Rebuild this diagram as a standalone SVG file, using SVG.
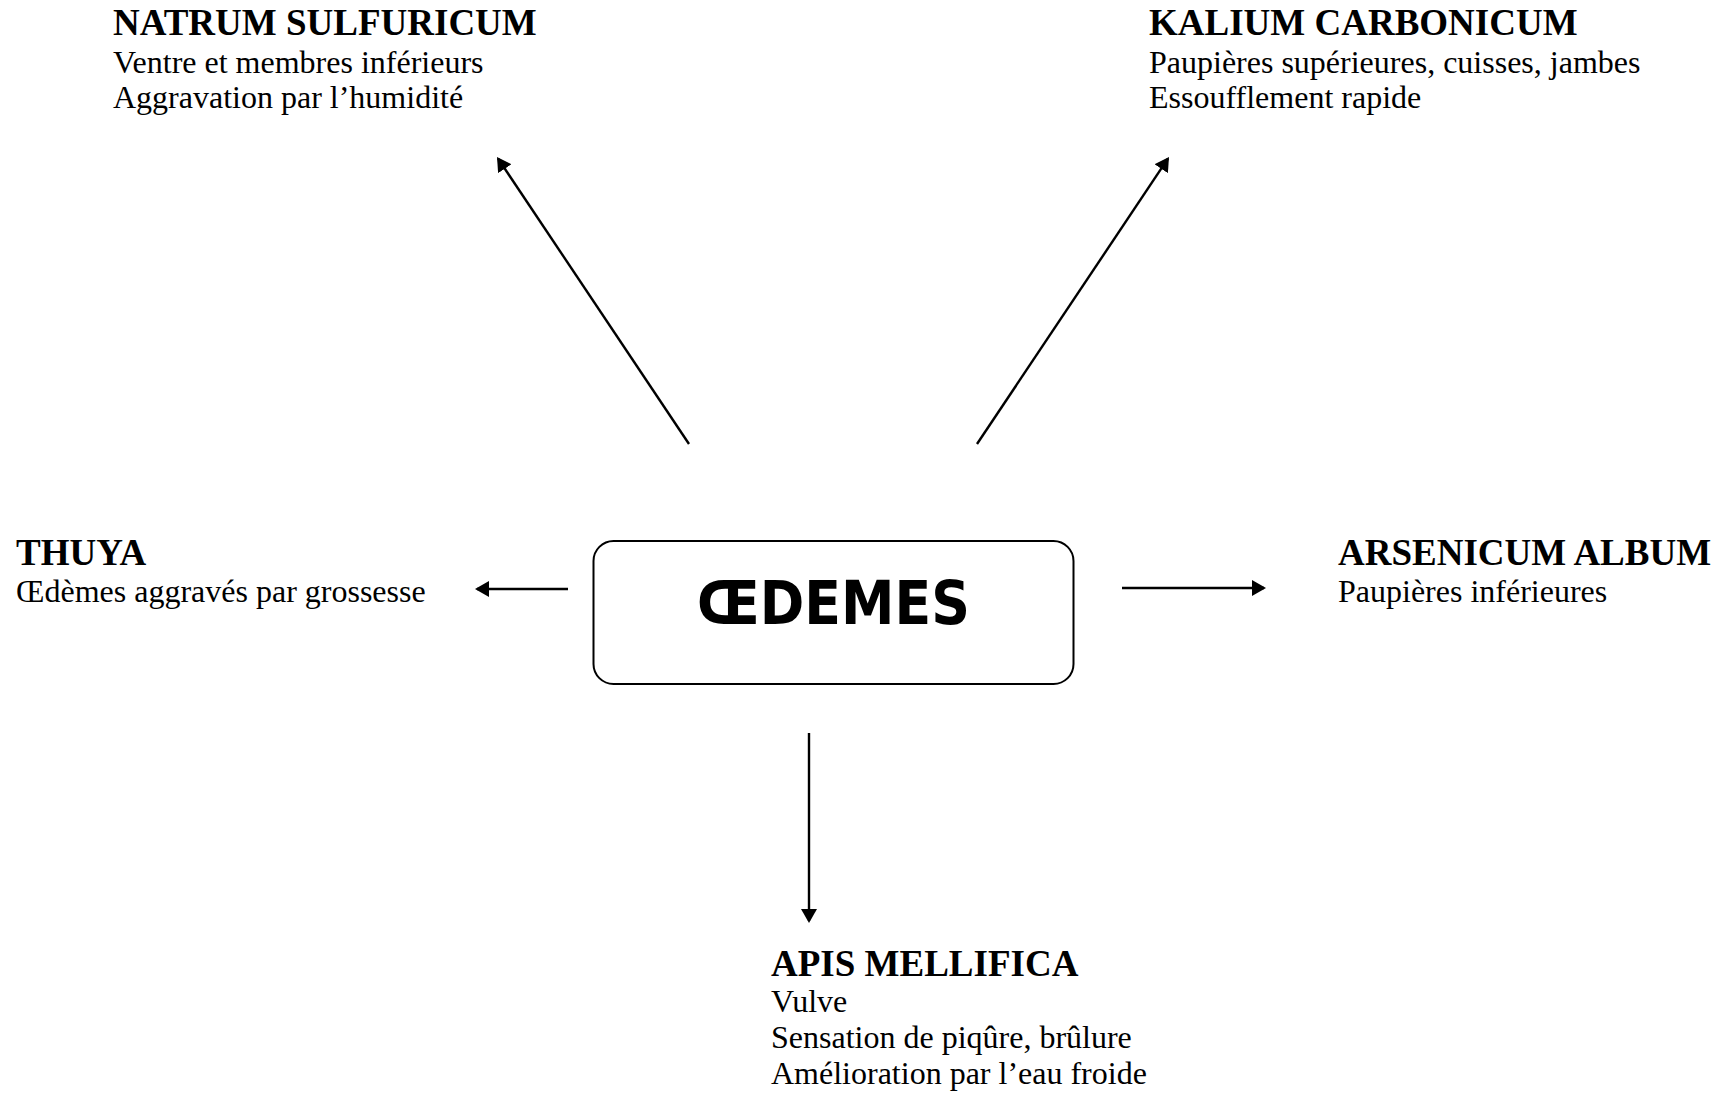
<svg xmlns="http://www.w3.org/2000/svg" width="1733" height="1093" viewBox="0 0 1733 1093">
<style>
.t{font-family:"Liberation Serif","Times New Roman",serif;font-weight:bold;font-size:37px;fill:#000}
.b{font-family:"Liberation Serif","Times New Roman",serif;font-size:32px;fill:#000}
.c{stroke:#000;stroke-width:2.4;fill:none}
.box{fill:#fff;stroke:#000;stroke-width:2}
.main{font-family:"Comic Sans MS","DejaVu Sans",sans-serif;font-weight:bold;font-size:60px;fill:#000}
</style>
<defs>
<marker id="ah" viewBox="0 0 14 16" refX="12" refY="8" markerWidth="14" markerHeight="16" markerUnits="userSpaceOnUse" orient="auto">
<path d="M0,0 L14,8 L0,16 z" fill="#000"/>
</marker>
</defs>
<rect width="1733" height="1093" fill="#fff"/>
<g id="connectors">
<line class="c" x1="689" y1="444" x2="498.1" y2="158.7" marker-end="url(#ah)"/>
<line class="c" x1="977" y1="444" x2="1167.9" y2="158.7" marker-end="url(#ah)"/>
<line class="c" x1="568" y1="589" x2="477" y2="589" marker-end="url(#ah)"/>
<line class="c" x1="1122" y1="588" x2="1264" y2="588" marker-end="url(#ah)"/>
<line class="c" x1="809" y1="733" x2="809" y2="921" marker-end="url(#ah)"/>
</g>
<g id="oedemes">
<rect class="box" x="593.5" y="541" width="480" height="143" rx="20" ry="20"/>
<text class="main" x="833.5" y="624" text-anchor="middle" textLength="273" lengthAdjust="spacingAndGlyphs">ŒDEMES</text>
</g>
<g id="natrum">
<text class="t" x="113" y="35">NATRUM SULFURICUM</text>
<text class="b" x="113" y="72.5">Ventre et membres inférieurs</text>
<text class="b" x="113" y="108">Aggravation par l’humidité</text>
</g>
<g id="kalium">
<text class="t" x="1149" y="35">KALIUM CARBONICUM</text>
<text class="b" x="1149" y="72.5">Paupières supérieures, cuisses, jambes</text>
<text class="b" x="1149" y="108">Essoufflement rapide</text>
</g>
<g id="thuya">
<text class="t" x="16" y="565">THUYA</text>
<text class="b" x="16" y="602">Œdèmes aggravés par grossesse</text>
</g>
<g id="arsenicum">
<text class="t" x="1338" y="565">ARSENICUM ALBUM</text>
<text class="b" x="1338" y="602">Paupières inférieures</text>
</g>
<g id="apis">
<text class="t" x="771" y="976">APIS MELLIFICA</text>
<text class="b" x="771" y="1012">Vulve</text>
<text class="b" x="771" y="1048">Sensation de piqûre, brûlure</text>
<text class="b" x="771" y="1084">Amélioration par l’eau froide</text>
</g>
</svg>
